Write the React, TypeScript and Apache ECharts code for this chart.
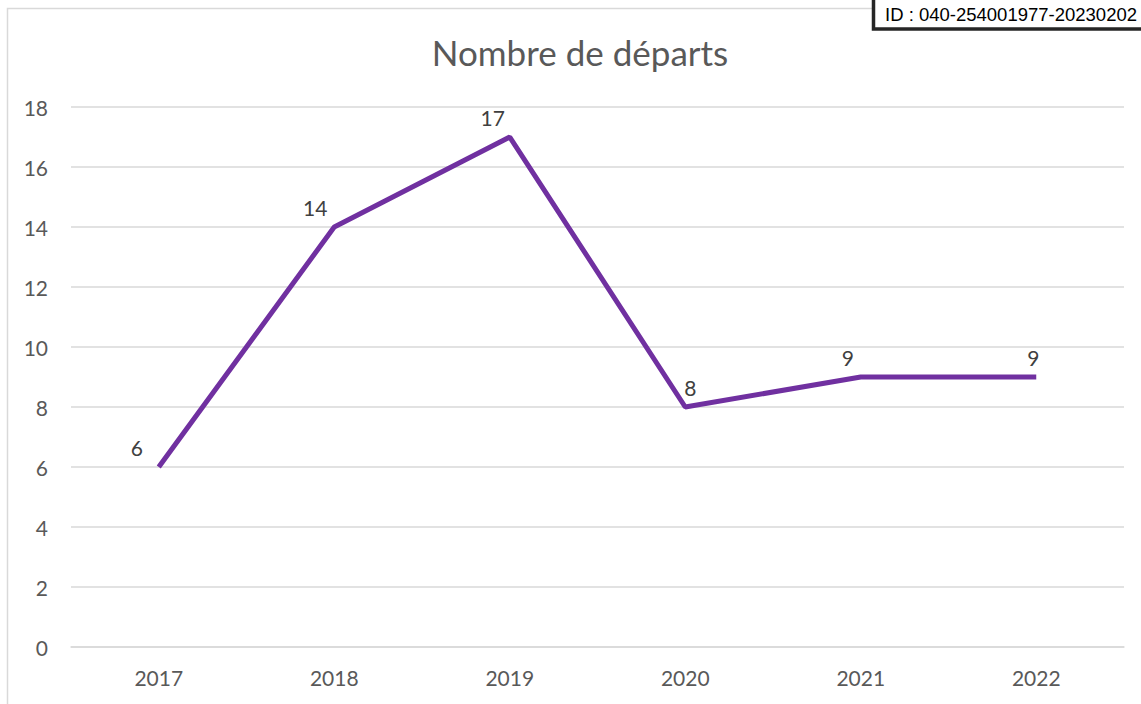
import React, { useEffect, useRef } from "react";
import * as echarts from "echarts";

const years = ["2017", "2018", "2019", "2020", "2021", "2022"];
const departures = [6, 14, 17, 8, 9, 9];
const labelOffsets = [[-22, 2], [-19, 2], [-17, 2], [5, 2], [-13, 2], [-3, 2]];
const titleText = "Nombre de départs";
const idText = "ID : 040-254001977-20230202";

export default function App() {
  const ref = useRef<HTMLDivElement>(null);
  useEffect(() => {
    if (!ref.current) return;
    const chart = echarts.init(ref.current, null, { renderer: "svg" });
    const font = "Lato, 'Noto Sans', sans-serif";
    chart.setOption({
      animation: false,
      backgroundColor: "#ffffff",
      title: {
        text: titleText,
        left: 575,
        top: 29,
        textAlign: "center",
        textStyle: { fontFamily: font, fontSize: 35, fontWeight: "normal", color: "#595959" },
      },
      grid: { left: 71, right: 17, top: 107, bottom: 57, containLabel: false },
      xAxis: {
        type: "category",
        data: years,
        boundaryGap: true,
        axisLine: { show: true, lineStyle: { color: "#d9d9d9", width: 1.5 } },
        axisTick: { show: false },
        axisLabel: { fontFamily: font, fontSize: 21, color: "#595959", margin: 20 },
      },
      yAxis: {
        type: "value",
        min: 0,
        max: 18,
        interval: 2,
        axisLine: { show: false },
        axisTick: { show: false },
        axisLabel: { fontFamily: font, fontSize: 21, color: "#595959", margin: 23 },
        splitLine: { lineStyle: { color: "#d9d9d9", width: 1.5 } },
      },
      series: [
        {
          type: "line",
          data: departures.map((v, i) => ({
            value: v,
            label: { offset: labelOffsets[i] },
          })),
          symbol: "circle",
          symbolSize: 0,
          showSymbol: true,
          lineStyle: { color: "#7030A0", width: 5 },
          itemStyle: { color: "#7030A0" },
          label: {
            show: true,
            position: "top",
            distance: 11,
            fontFamily: font,
            fontSize: 21,
            color: "#404040",
          },
        },
      ],
      graphic: [
        {
          type: "rect",
          shape: { x: 7.5, y: 8.5, width: 1150, height: 720 },
          style: { fill: "none", stroke: "#d9d9d9", lineWidth: 1.5 },
          silent: true,
          z: -1,
        },
        {
          type: "rect",
          shape: { x: 873.5, y: -3, width: 280, height: 32 },
          style: { fill: "#ffffff", stroke: "#262626", lineWidth: 3.5 },
          z: 10,
        },
        {
          type: "text",
          x: 885,
          y: 14,
          style: {
            text: idText,
            fontFamily: "'Liberation Sans', Arial, sans-serif",
            fontSize: 18.5,
            fill: "#000000",
            textVerticalAlign: "middle",
          },
          z: 11,
        },
      ],
    });
    return () => chart.dispose();
  }, []);
  return (
    <div
      ref={ref}
      style={{ position: "fixed", left: 0, top: 0, width: 1141, height: 704 }}
    />
  );
}
